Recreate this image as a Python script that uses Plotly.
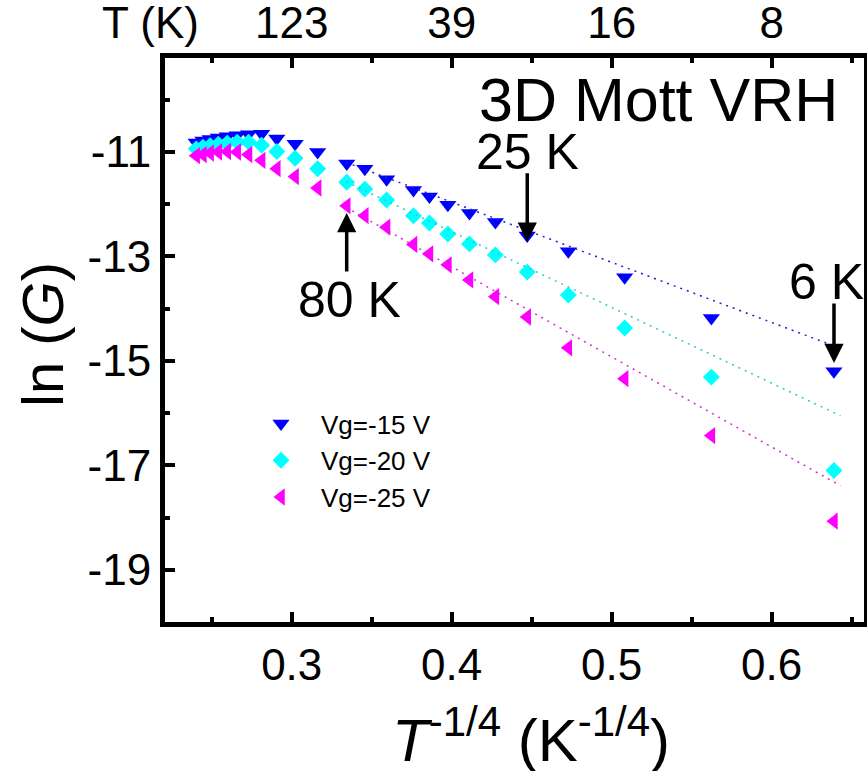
import plotly.graph_objects as go

# ---------------- data ----------------
temps_K = [300, 280, 260, 240, 220, 200, 180, 160, 140, 120, 100, 80, 70, 60, 50, 45, 40, 35, 30, 25, 20, 15, 10, 6]
x_vals = [round(t ** -0.25, 4) for t in temps_K]  # T^-1/4

lnG_m15 = [-10.82, -10.78, -10.75, -10.72, -10.70, -10.68, -10.66, -10.65, -10.74, -10.84, -11.00, -11.22,
           -11.32, -11.52, -11.73, -11.85, -12.01, -12.17, -12.34, -12.60, -12.90, -13.40, -14.18, -15.20]
lnG_m20 = [-10.94, -10.91, -10.88, -10.85, -10.83, -10.81, -10.81, -10.87, -10.99, -11.12, -11.32, -11.58,
           -11.71, -11.92, -12.22, -12.36, -12.57, -12.76, -12.97, -13.30, -13.74, -14.37, -15.31, -17.10]
lnG_m25 = [-11.07, -11.05, -11.02, -11.00, -10.99, -11.00, -11.05, -11.16, -11.32, -11.47, -11.69, -12.03,
           -12.22, -12.44, -12.77, -12.95, -13.16, -13.45, -13.77, -14.16, -14.75, -15.34, -16.43, -18.07]

fit_x = [0.334, 0.643]
fit_m15 = [-11.20, -14.76]
fit_m20 = [-11.57, -16.05]
fit_m25 = [-12.06, -17.39]

series_names = ["Vg=-15 V", "Vg=-20 V", "Vg=-25 V"]

y_tickvals = [-19, -17, -15, -13, -11]
y_ticktext = ["-19", "-17", "-15", "-13", "-11"]
top_tickvals = [0.3, 0.4, 0.5, 0.6]
top_ticktext = ["123", "39", "16", "8"]

arrow_T = [25, 80, 6]
arrow_lnG = [-12.72, -12.17, -15.04]
arrow_labels = ["25 K", "80 K", "6 K"]

# ---------------- layout geometry ----------------
W, H = 867, 771
L, R, T, B = 165, 864, 58, 622
XR = [0.2208, 0.6577]
YR = [-20.0, -9.2]
FONT = "Arial, Liberation Sans, sans-serif"


def px(x):
    return (x - L) / (R - L)


def py(y):
    return (B - y) / (B - T)


fig = go.Figure()

colors = ["#0000FF", "#00FFFF", "#FF00FF"]
line_colors = ["#2020D0", "#30C8C8", "#D030D0"]
symbols = ["triangle-down", "diamond", "triangle-left"]
sizes = [15, 13, 15]
data_sets = [lnG_m15, lnG_m20, lnG_m25]
fits = [fit_m15, fit_m20, fit_m25]

for name, yv, c, s, sz in zip(series_names, data_sets, colors, symbols, sizes):
    fig.add_trace(go.Scatter(x=x_vals, y=yv, mode="markers", name=name,
                             marker=dict(symbol=s, size=sz, color=c, line=dict(width=0))))

for fy, c in zip(fits, line_colors):
    fig.add_trace(go.Scatter(x=fit_x, y=fy, mode="lines", showlegend=False,
                             line=dict(color=c, width=1.5, dash="2px,5px"), hoverinfo="skip"))

# dummy trace to activate top axis
fig.add_trace(go.Scatter(x=[], y=[], xaxis="x2", showlegend=False))

axis_common = dict(showline=True, linewidth=5, linecolor="black", ticks="inside",
                   tickwidth=4, tickcolor="black", showgrid=False, zeroline=False,
                   automargin=False,
                   tickfont=dict(family=FONT, size=44, color="black"))

fig.update_layout(
    width=W, height=H,
    margin=dict(l=L, r=W - R, t=T, b=H - B),
    paper_bgcolor="white", plot_bgcolor="white",
    font=dict(family=FONT, color="black"),
    xaxis=dict(range=XR, dtick=0.1, tick0=0.3, ticklen=10,
               minor=dict(dtick=0.05, tick0=0.25, ticks="inside", ticklen=5, tickwidth=4, tickcolor="black"),
               **axis_common),
    xaxis2=dict(range=XR, overlaying="x", side="top", tickmode="array",
                tickvals=top_tickvals, ticktext=top_ticktext, ticklen=10, ticklabelstandoff=-3,
                minor=dict(tickvals=[0.25, 0.35, 0.45, 0.55, 0.65], ticks="inside", ticklen=5,
                           tickwidth=4, tickcolor="black"),
                **axis_common),
    yaxis=dict(range=YR, tickmode="array", tickvals=y_tickvals, ticktext=y_ticktext,
               ticklen=10, mirror=True,
               minor=dict(dtick=1, tick0=-10, ticks="inside", ticklen=5, tickwidth=4, tickcolor="black"),
               **axis_common),
    legend=dict(x=px(241), y=py(400), xanchor="left", yanchor="top",
                font=dict(family=FONT, size=26, color="black"), itemwidth=70,
                bgcolor="rgba(0,0,0,0)", tracegroupgap=0),
    showlegend=True,
)

annotations = [
    dict(text="3D Mott VRH", x=px(840), y=py(100), xanchor="right", yanchor="middle",
         font=dict(size=61)),
    dict(text="T (K)", x=px(150), y=py(22), xanchor="center", yanchor="middle",
         font=dict(size=44)),
    dict(text="ln (<i>G</i>)", x=px(42), y=py(335), xanchor="center", yanchor="middle",
         textangle=-90, font=dict(size=58)),
    dict(text="<i>T</i><sup>-1/4</sup> (K<sup>-1/4</sup>)", x=px(531), y=py(736),
         xanchor="center", yanchor="middle", font=dict(size=60)),
    dict(text=arrow_labels[0], x=px(527), y=py(152), xanchor="center", yanchor="middle", font=dict(size=50)),
    dict(text=arrow_labels[1], x=px(349), y=py(300), xanchor="center", yanchor="middle", font=dict(size=50)),
    dict(text=arrow_labels[2], x=px(826), y=py(282), xanchor="center", yanchor="middle", font=dict(size=50)),
]
for a in annotations:
    a.update(xref="paper", yref="paper", showarrow=False)
    a["font"].update(family=FONT, color="black")

arrow_offsets = [-70, 60, -61]
for t, yv, off in zip(arrow_T, arrow_lnG, arrow_offsets):
    annotations.append(dict(x=t ** -0.25, y=yv, xref="x", yref="y", text="", showarrow=True,
                            ax=0, ay=off, arrowhead=2, arrowsize=1.1, arrowwidth=3.5,
                            arrowcolor="black", standoff=0))

fig.update_layout(annotations=annotations)

fig.write_html("out.html")
